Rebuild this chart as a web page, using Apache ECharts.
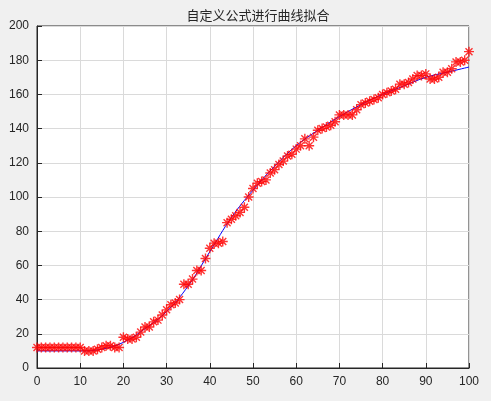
<!DOCTYPE html>
<html><head><meta charset="utf-8">
<script src="https://cdn.jsdelivr.net/npm/echarts@6/dist/echarts.min.js"></script>
<style>html,body{margin:0;background:#f0f0f0}#c{width:491px;height:401px}</style>
</head><body><div id="c"></div>
<script>
const titleText = '自定义公式进行曲线拟合';
const yData = [12,12,12,12,12,12,12,12,12,12,12,
  10,10,10,11,12,13,13,12,12,18,17,17,18,21,24,24,27,28,31,34,
  37,38,40,49,49,52,57,57,64,70,73,73,74,85,87,89,91,94,100,105,
  108,109,110,114,116,119,121,124,125,128,130,134,130,135,139,140,141,142,144,148,
  148,148,148,151,154,155,156,157,158,160,161,162,163,166,166,167,169,171,171,172,
  169,169,170,173,173,175,179,179,180,185];
const fitX = [0,5,10,15,20,25,30,35,40,45,50,55,60,65,70,75,80,85,90,95,100];
const fitY = [10,10,10,11,15,23,33,48,68,88,104,118,130,139,147,154,160,165,170,173,176];

const pts = yData.map((v, i) => [i, v]);
const fit = fitX.map((x, i) => [x, fitY[i]]);
const lbl = {color:'#262626', fontSize:12, fontFamily:'Liberation Sans'};
const chart = echarts.init(document.getElementById('c'));
chart.setOption({
  animation:false,
  backgroundColor:'#f0f0f0',
  title:{text:titleText,left:253,top:4,textAlign:'center',textStyle:{fontSize:13,fontWeight:'normal',color:'#262626',fontFamily:'Noto Sans CJK SC'}},
  grid:{left:37,right:22,top:26,bottom:33,show:true,backgroundColor:'#fff',borderColor:'#262626',borderWidth:1},
  xAxis:{type:'value',min:0,max:100,interval:10,
    axisLine:{lineStyle:{color:'#262626'}},axisTick:{inside:true,lineStyle:{color:'#262626'}},
    axisLabel:lbl,splitLine:{lineStyle:{color:'#dadada'}}},
  yAxis:{type:'value',min:0,max:200,interval:20,
    axisLine:{show:true,lineStyle:{color:'#262626'}},axisTick:{show:true,inside:true,lineStyle:{color:'#262626'}},
    axisLabel:lbl,splitLine:{lineStyle:{color:'#dadada'}}},
  series:[
    {type:'line',data:fit,smooth:0.4,showSymbol:false,lineStyle:{color:'#0000ff',width:1},z:3},
    {type:'scatter',data:pts,symbol:'path://M0,-5L0,5M-5,0L5,0M-3.5,-3.5L3.5,3.5M-3.5,3.5L3.5,-3.5',
     symbolSize:10,itemStyle:{color:'none',borderColor:'#ff0000',borderWidth:1.4},z:4}
  ]
});
</script></body></html>
